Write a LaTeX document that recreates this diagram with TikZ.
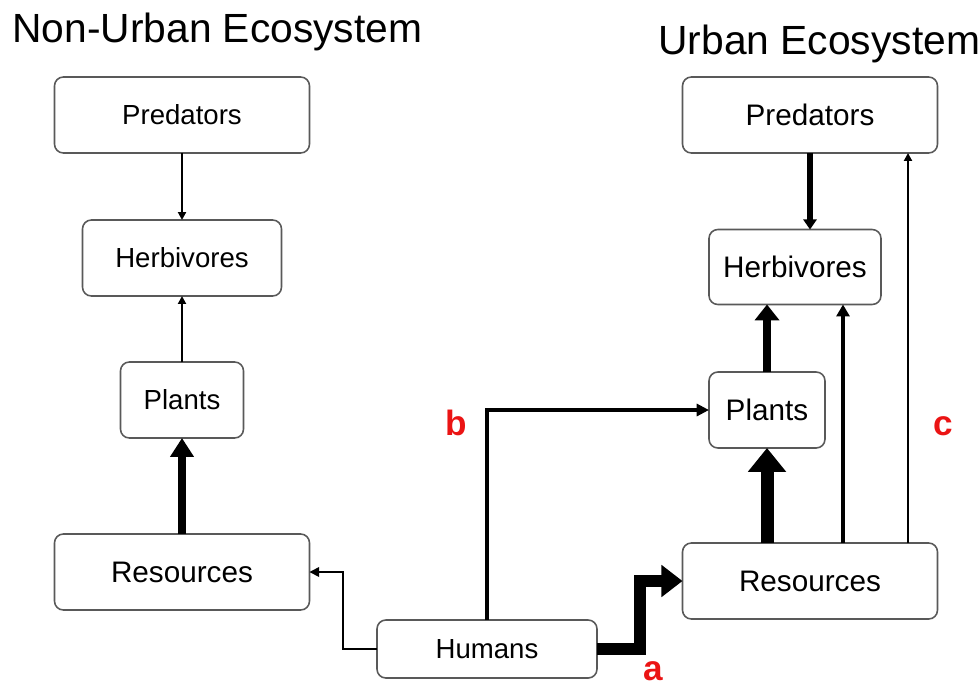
\documentclass[tikz,border=0pt]{standalone}
\usepackage{fontspec}
\setmainfont{Liberation Sans}
\usetikzlibrary{arrows.meta}
\definecolor{labelred}{RGB}{235,20,20}

\tikzset{
  box/.style={draw=black!65, line width=0.9pt, rounded corners=5pt, inner sep=0pt, outer sep=0pt,
    font=\fontsize{15.7}{18}\selectfont},
  bigbox/.style={box, font=\fontsize{16.9}{19}\selectfont},
  title/.style={anchor=base west, inner sep=0pt, font=\fontsize{23.2}{26}\selectfont},
  tag/.style={anchor=base, inner sep=0pt, text=labelred, font=\fontsize{20}{22}\selectfont\bfseries},
  flow/.style={draw=black, line width=#1},
}

\begin{document}
\begin{tikzpicture}[x=0.02cm, y=-0.02cm]
\useasboundingbox (0,0) rectangle (980,687);

% titles
\node[title] (ttl) at (12,42) {Non-Urban Ecosystem};
\node[title] (ttr) at (658,54) {Urban Ecosystem};

% non-urban chain
\node[box, minimum width=5.1cm, minimum height=1.52cm] (lpred) at (182,115) {Predators};
\node[box, minimum width=3.98cm, minimum height=1.52cm] (lherb) at (182,258) {Herbivores};
\node[box, minimum width=2.46cm, minimum height=1.52cm] (lplant) at (182,400) {Plants};
\node[bigbox, minimum width=5.1cm, minimum height=1.52cm] (lres) at (182,572) {Resources};

% humans
\node[box, minimum width=4.4cm, minimum height=1.16cm] (hum) at (487,649) {Humans};

% urban chain
\node[bigbox, minimum width=5.1cm, minimum height=1.52cm] (rpred) at (810,115) {Predators};
\node[bigbox, minimum width=3.44cm, minimum height=1.5cm] (rherb) at (795,267) {Herbivores};
\node[bigbox, minimum width=2.32cm, minimum height=1.52cm] (rplant) at (767,410) {Plants};
\node[bigbox, minimum width=5.1cm, minimum height=1.52cm] (rres) at (810,581) {Resources};

\coordinate (xh) at (843,0);
\coordinate (xc) at (908,0);

% non-urban arrows
\draw[flow=1.4pt, -{Triangle[length=4.5pt, width=4.5pt]}] (lpred) -- (lherb);
\draw[flow=1.4pt, -{Triangle[length=4.5pt, width=4.5pt]}] (lplant) -- (lherb);
\draw[flow=4.5pt, -{Triangle[length=10.8pt, width=13pt]}] (lres) -- (lplant);

% human arrows
\draw[flow=0.9pt, -{Triangle[length=5.5pt, width=5.5pt]}] (hum.west) -- ++(-34,0) |- (lres.east);
\draw[flow=6.8pt, -{Triangle[length=12pt, width=17.6pt]}] (hum.east) -- ++(43,0) |- (rres.west);
\draw[flow=2.8pt, -{Triangle[length=7pt, width=6.8pt]}] (hum.north) |- (rplant.west);

% urban arrows
\draw[flow=7.4pt, -{Triangle[length=13.6pt, width=21pt]}] (rplant.south |- rres.north) -- (rplant.south);
\draw[flow=5.1pt, -{Triangle[length=9pt, width=13.6pt]}] (rplant.north) -- (rplant.north |- rherb.south);
\draw[flow=2.8pt, -{Triangle[length=6.8pt, width=7.4pt]}] (rres.north -| xh) -- (rherb.south -| xh);
\draw[flow=1.4pt, -{Triangle[length=4.5pt, width=4.5pt]}] (rres.north -| xc) -- (rpred.south -| xc);
\draw[flow=3.7pt, -{Triangle[length=5.7pt, width=7.4pt]}] (rpred.south) -- (rpred.south |- rherb.north);

% path labels
\node[tag] (ta) at (653,680) {a};
\node[tag] (tb) at (456,435) {b};
\node[tag] (tc) at (943,435) {c};
\end{tikzpicture}
\end{document}
